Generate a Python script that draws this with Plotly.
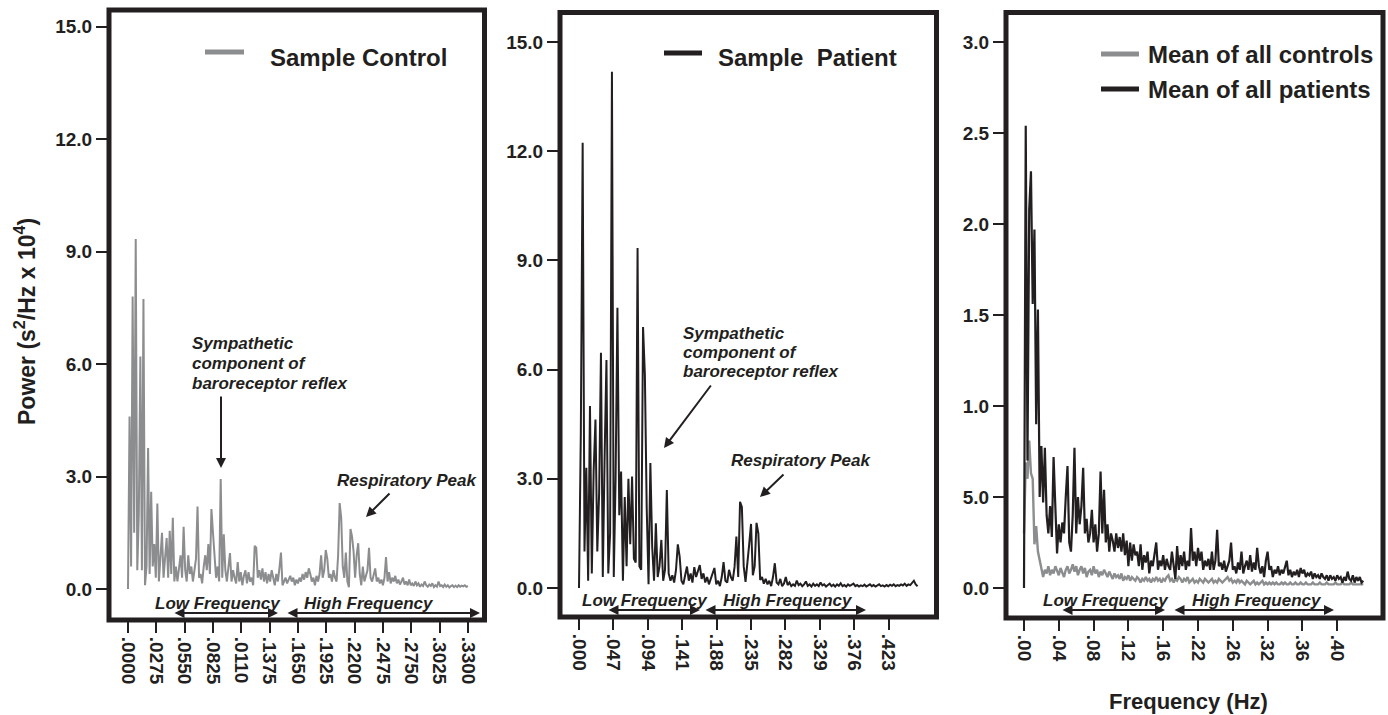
import numpy as np
import plotly.graph_objects as go

W, H = 1388, 715
FONT = "Liberation Sans, Arial, Helvetica, sans-serif"
INK = "#231f20"
GREY = "#8c8d8f"

# ---------------- data ----------------
# Panel 1: sample control power spectrum (s^2/Hz x 10^4)
ctrl_df = 0.0015
ctrl_power = [
    0.0, 4.6, 0.6, 7.8, 1.5, 9.33, 0.5, 2.0, 6.2, 0.5,
    7.73, 0.1, 0.6, 3.76, 0.4, 2.59, 0.6, 1.2, 0.3, 2.28,
    0.2, 0.8, 1.5, 0.3, 0.9, 1.36, 0.3, 1.55, 0.4, 1.9,
    0.2, 0.6, 0.2, 0.5, 0.9, 0.3, 1.66, 0.5, 0.2, 0.9,
    0.4, 0.6, 0.2, 0.5, 0.8, 2.2, 0.3, 0.4, 0.15, 0.6,
    0.9, 0.5, 1.2, 0.4, 2.13, 1.5, 1.0, 0.3, 0.6, 0.2,
    2.93, 0.3, 1.46, 0.5, 0.2, 0.6, 0.96, 0.2, 0.5, 0.3,
    0.15, 0.72, 0.2, 0.45, 0.1, 0.35, 0.5, 0.15, 0.45, 0.2,
    0.3, 0.1, 1.15, 1.1, 0.3, 0.5, 0.25, 0.55, 0.2, 0.45,
    0.15, 0.4, 0.2, 0.5, 0.3, 0.1, 0.4, 0.2, 0.55, 0.97,
    0.1, 0.2, 0.3, 0.15, 0.25, 0.35, 0.2, 0.3, 0.1, 0.25,
    0.15, 0.3, 0.2, 0.4, 0.25, 0.45, 0.3, 0.55, 0.4, 0.2,
    0.3, 0.1, 0.35, 0.2, 0.4, 0.9, 0.3, 0.5, 1.04, 0.8,
    0.3, 0.4, 0.2, 0.5, 0.3, 0.2, 0.9, 2.29, 1.9, 0.6,
    0.3, 0.97, 0.2, 0.05, 1.6, 1.4, 1.0, 0.3, 0.9, 1.22,
    0.4, 0.1, 0.6, 0.2, 0.35, 0.5, 1.1, 0.3, 0.2, 0.4,
    0.55, 0.2, 0.3, 0.15, 0.25, 0.1, 0.3, 0.85, 0.2, 0.45,
    0.15, 0.3, 0.2, 0.35, 0.15, 0.25, 0.12, 0.2, 0.3, 0.12,
    0.2, 0.1, 0.25, 0.1, 0.15, 0.08, 0.2, 0.1, 0.15, 0.06,
    0.12, 0.08, 0.2, 0.1, 0.06, 0.12, 0.08, 0.15, 0.05, 0.1,
    0.06, 0.2, 0.08, 0.1, 0.05, 0.12, 0.06, 0.1, 0.04, 0.08,
    0.1, 0.05, 0.09, 0.05, 0.1, 0.06, 0.09, 0.07, 0.1, 0.06,
    0.08,
]

# Panel 2: sample patient power spectrum
pat_df = 0.0025
pat_power = [
    0.0, 4.26, 12.23, 1.0, 3.3, 0.2, 5.0, 0.4, 3.2, 4.63,
    1.0, 2.6, 6.46, 0.3, 3.6, 6.26, 0.4, 1.5, 14.18, 0.3,
    3.0, 7.7, 2.0, 3.2, 0.2, 2.5, 0.6, 3.0, 1.2, 3.06,
    0.8, 0.7, 9.34, 0.6, 0.5, 7.17, 5.85, 2.2, 0.1, 3.43,
    1.13, 0.2, 1.78, 0.3, 0.6, 1.32, 0.2, 0.5, 2.69, 0.4,
    0.2, 0.35, 0.15, 0.5, 1.2, 0.86, 0.2, 0.1, 0.35, 0.59,
    0.2, 0.4, 0.15, 0.57, 0.3, 0.45, 0.63, 0.25, 0.4, 0.15,
    0.3, 0.1, 0.25, 0.35, 0.55, 0.1, 0.2, 0.05, 0.3, 0.71,
    0.2, 0.15, 0.5, 0.3, 0.2, 0.58, 1.41, 0.3, 2.37, 2.23,
    0.6, 0.17, 0.6, 1.2, 1.76, 0.35, 0.6, 1.79, 1.5, 0.22,
    0.3, 0.12, 0.25, 0.1, 0.2, 0.05, 0.3, 0.68, 0.15, 0.1,
    0.25, 0.05, 0.12, 0.3, 0.08, 0.15, 0.05, 0.1, 0.06, 0.2,
    0.08, 0.12, 0.05, 0.1, 0.18, 0.06, 0.1, 0.04, 0.12, 0.06,
    0.1, 0.05, 0.15, 0.07, 0.1, 0.04, 0.08, 0.12, 0.05, 0.09,
    0.04, 0.1, 0.06, 0.13, 0.05, 0.08, 0.04, 0.1, 0.06, 0.08,
    0.12, 0.05, 0.08, 0.04, 0.07, 0.05, 0.09, 0.04, 0.07, 0.1,
    0.05, 0.08, 0.04, 0.06, 0.1, 0.05, 0.07, 0.04, 0.08, 0.05,
    0.09, 0.06, 0.1, 0.05, 0.08, 0.06, 0.1, 0.07, 0.12, 0.06,
    0.1, 0.08, 0.15, 0.2, 0.1, 0.05,
]

# Panel 3: group means
mean_df = 0.002
mean_pat = [
    0.0, 2.54, 0.7, 2.08, 2.29, 1.56, 1.97, 0.9, 1.53, 0.5,
    0.78, 0.47, 0.77, 0.4, 0.3, 0.45, 0.28, 0.72, 0.45, 0.19,
    0.35, 0.25, 0.36, 0.3, 0.5, 0.67, 0.25, 0.2, 0.4, 0.77,
    0.3, 0.5, 0.35, 0.45, 0.66, 0.3, 0.38, 0.25, 0.3, 0.43,
    0.25, 0.35, 0.2, 0.3, 0.64, 0.3, 0.54, 0.25, 0.35, 0.2,
    0.3, 0.26, 0.2, 0.3, 0.22, 0.28, 0.2, 0.3, 0.18, 0.26,
    0.12, 0.25, 0.15, 0.24, 0.18, 0.2, 0.12, 0.24, 0.1, 0.18,
    0.14, 0.2, 0.08, 0.15, 0.12, 0.18, 0.25, 0.1, 0.15, 0.12,
    0.18, 0.1, 0.16, 0.12, 0.1, 0.2, 0.12, 0.05, 0.23, 0.1,
    0.18, 0.12, 0.2, 0.1, 0.15, 0.12, 0.33, 0.15, 0.2, 0.12,
    0.22, 0.15, 0.2, 0.1, 0.15, 0.12, 0.16, 0.1, 0.2, 0.1,
    0.15, 0.32, 0.12, 0.14, 0.1, 0.15, 0.09, 0.12, 0.15, 0.25,
    0.1, 0.12, 0.08, 0.14, 0.1, 0.2, 0.08, 0.12, 0.15, 0.1,
    0.18, 0.09, 0.14, 0.1, 0.22, 0.12, 0.08, 0.12, 0.06, 0.15,
    0.2, 0.1, 0.12, 0.06, 0.1, 0.08, 0.12, 0.07, 0.1, 0.08,
    0.12, 0.15, 0.07, 0.1, 0.06, 0.09, 0.07, 0.1, 0.06, 0.11,
    0.08, 0.1, 0.06, 0.08, 0.07, 0.09, 0.05, 0.08, 0.06, 0.07,
    0.05, 0.08, 0.06, 0.05, 0.07, 0.04, 0.07, 0.05, 0.06, 0.04,
    0.07, 0.05, 0.06, 0.03, 0.06, 0.04, 0.09, 0.05, 0.04, 0.07,
    0.03, 0.06, 0.04, 0.06, 0.03, 0.04,
]
mean_ctrl = [
    0.3, 0.69, 0.6, 0.81, 0.63, 0.6, 0.24, 0.34, 0.2, 0.15,
    0.1, 0.06, 0.1, 0.08, 0.12, 0.07, 0.1, 0.08, 0.12, 0.09,
    0.07, 0.11, 0.08, 0.06, 0.1, 0.12, 0.08, 0.1, 0.13, 0.09,
    0.12, 0.07, 0.1, 0.12, 0.08, 0.11, 0.06, 0.09, 0.1, 0.07,
    0.12, 0.08, 0.1, 0.06, 0.09, 0.07, 0.1, 0.08, 0.06, 0.09,
    0.07, 0.05, 0.08, 0.06, 0.07, 0.05, 0.08, 0.04, 0.06, 0.05,
    0.07, 0.04, 0.06, 0.05, 0.04, 0.06, 0.05, 0.03, 0.05, 0.04,
    0.06, 0.04, 0.05, 0.03, 0.05, 0.04, 0.06, 0.04, 0.05, 0.03,
    0.05, 0.04, 0.06, 0.07, 0.04, 0.05, 0.03, 0.05, 0.04, 0.06,
    0.05, 0.03, 0.05, 0.04, 0.06, 0.03, 0.04, 0.05, 0.03, 0.04,
    0.03, 0.05, 0.04, 0.03, 0.05, 0.04, 0.03, 0.04, 0.05, 0.03,
    0.04, 0.03, 0.05, 0.04, 0.03, 0.04, 0.05, 0.06, 0.04, 0.05,
    0.03, 0.04, 0.03, 0.05, 0.03, 0.04, 0.03, 0.02, 0.04, 0.03,
    0.02, 0.03, 0.04, 0.02, 0.03, 0.02, 0.03, 0.04, 0.02, 0.03,
    0.02, 0.03, 0.02, 0.03, 0.02, 0.03, 0.02, 0.02, 0.03, 0.02,
    0.03, 0.02, 0.02, 0.03, 0.02, 0.02, 0.03, 0.02, 0.02, 0.03,
    0.02, 0.02, 0.03, 0.02, 0.02, 0.02, 0.03, 0.02, 0.02, 0.02,
    0.03, 0.02, 0.02, 0.02, 0.03, 0.02, 0.02, 0.02, 0.02, 0.03,
    0.02, 0.02, 0.02, 0.03, 0.02, 0.02, 0.02, 0.02, 0.03, 0.02,
    0.02, 0.02, 0.02, 0.02, 0.02, 0.02,
]

# tick values / labels (labels kept exactly as printed)
x1_vals = [0.0, 0.0275, 0.055, 0.0825, 0.11, 0.1375, 0.165, 0.1925, 0.22, 0.2475, 0.275, 0.3025, 0.33]
x1_text = [".0000", ".0275", ".0550", ".0825", ".0110", ".1375", ".1650", ".1925", ".2200", ".2475", ".2750", ".3025", ".3300"]
x2_vals = [0.0, 0.047, 0.094, 0.141, 0.188, 0.235, 0.282, 0.329, 0.376, 0.423]
x2_text = [".000", ".047", ".094", ".141", ".188", ".235", ".282", ".329", ".376", ".423"]
x3_vals = [0.0, 0.04, 0.08, 0.12, 0.16, 0.20, 0.24, 0.28, 0.32, 0.36]
x3_text = [".00", ".04", ".08", ".12", ".16", ".22", ".26", ".32", ".36", ".40"]
y12_vals = [0, 3, 6, 9, 12, 15]
y12_text = ["0.0", "3.0", "6.0", "9.0", "12.0", "15.0"]
y3_vals = [0, 0.5, 1.0, 1.5, 2.0, 2.5, 3.0]
y3_text = ["0.0", "5.0", "1.0", "1.5", "2.0", "2.5", "3.0"]

ctrl_f = np.arange(len(ctrl_power)) * ctrl_df
pat_f = np.arange(len(pat_power)) * pat_df
mean_f = np.arange(len(mean_pat)) * mean_df

# ---------------- layout helpers ----------------
def px(X):
    return X / W

def py(Y):
    return 1 - Y / H

fig = go.Figure()
fig.add_trace(go.Scatter(x=ctrl_f, y=ctrl_power, mode="lines", line=dict(color=GREY, width=2),
                         xaxis="x", yaxis="y", showlegend=False, hoverinfo="skip"))
fig.add_trace(go.Scatter(x=pat_f, y=pat_power, mode="lines", line=dict(color=INK, width=2),
                         xaxis="x2", yaxis="y2", showlegend=False, hoverinfo="skip"))
fig.add_trace(go.Scatter(x=mean_f, y=mean_ctrl, mode="lines", line=dict(color=GREY, width=2.4),
                         xaxis="x3", yaxis="y3", showlegend=False, hoverinfo="skip"))
fig.add_trace(go.Scatter(x=mean_f, y=mean_pat, mode="lines", line=dict(color=INK, width=2.2),
                         xaxis="x3", yaxis="y3", showlegend=False, hoverinfo="skip"))

tickfont = dict(family=FONT, size=19, color=INK, weight="bold")
common = dict(showgrid=False, zeroline=False, showline=False, ticks="outside",
              ticklen=12, tickwidth=2, tickcolor=INK, tickfont=tickfont, fixedrange=True)

# frames (pixel boxes: left, top, right, bottom)
frames = [(109, 10, 484.5, 620), (560, 12.5, 936.5, 617), (1006, 12.5, 1383, 618)]
xr = [(-0.01845, 0.34612), (-0.02596, 0.48839), (-0.02069, 0.41264)]
yr = [(-0.8267, 15.44), (-0.797, 15.81), (-0.1648, 3.162)]
xt = [(x1_vals, x1_text), (x2_vals, x2_text), (x3_vals, x3_text)]
yt = [(y12_vals, y12_text), (y12_vals, y12_text), (y3_vals, y3_text)]

layout = {}
for k in range(3):
    L, T, R, B = frames[k]
    sfx = "" if k == 0 else str(k + 1)
    layout["xaxis" + sfx] = dict(common, domain=[px(L), px(R)], range=list(xr[k]),
                                 tickvals=xt[k][0], ticktext=xt[k][1], tickangle=90,
                                 anchor="y" + sfx)
    layout["yaxis" + sfx] = dict(common, domain=[py(B), py(T)], range=list(yr[k]),
                                 tickvals=yt[k][0], ticktext=yt[k][1],
                                 anchor="x" + sfx)

shapes = []
for k in range(3):
    L, T, R, B = frames[k]
    shapes.append(dict(type="rect", xref="paper", yref="paper",
                       x0=px(L), x1=px(R), y0=py(B), y1=py(T),
                       line=dict(color=INK, width=5), fillcolor="rgba(0,0,0,0)", layer="above"))

# legend keys
for (x0, x1, y, c) in [(205, 244, 52, GREY), (664, 702, 53, INK), (1101, 1139, 54, GREY), (1101, 1139, 89, INK)]:
    shapes.append(dict(type="line", xref="paper", yref="paper", x0=px(x0), x1=px(x1),
                       y0=py(y), y1=py(y), line=dict(color=c, width=5)))

annotations = []

def text(X, Y, s, size, italic=False, xanchor="left", angle=0):
    t = "<b><i>%s</i></b>" % s if italic else "<b>%s</b>" % s
    annotations.append(dict(xref="paper", yref="paper", x=px(X), y=py(Y), text=t,
                            showarrow=False, xanchor=xanchor, yanchor="middle", textangle=angle,
                            font=dict(family=FONT, size=size, color=INK)))

def arrow(hx, hy, tx, ty, both=False):
    annotations.append(dict(xref="paper", yref="paper", x=px(hx), y=py(hy), text="",
                            showarrow=True, ax=tx - hx, ay=ty - hy, arrowhead=2, arrowsize=1,
                            arrowwidth=2, arrowcolor=INK,
                            arrowside="end+start" if both else "end"))

# legend texts
text(268, 57, "Sample Control", 24)
text(716, 57, "Sample  Patient", 24)
text(1146, 55, "Mean of all controls", 24)
text(1146, 90, "Mean of all patients", 24)

# axis titles
text(25, 322, "Power (s<sup>2</sup>/Hz x 10<sup>4</sup>)", 23, xanchor="center", angle=-90)
text(1188, 701, "Frequency (Hz)", 22, xanchor="center")

# panel 1 notes
text(190, 343, "Sympathetic", 17, True)
text(190, 363, "component of", 17, True)
text(190, 383, "baroreceptor reflex", 17, True)
arrow(221, 468, 221, 395)
text(335, 480, "Respiratory Peak", 17, True)
arrow(366, 517, 391, 492)

# panel 2 notes
text(681, 333, "Sympathetic", 17, True)
text(681, 352, "component of", 17, True)
text(681, 371, "baroreceptor reflex", 17, True)
arrow(664, 448, 712, 384)
text(729, 460, "Respiratory Peak", 17, True)
arrow(760, 497, 785, 473)

# frequency bands
for (lx, hx, ly, ll, lr, hl, hr) in [
    (153, 302, 603, 173, 278, 286, 480),
    (580, 721, 600, 607, 700, 704, 866),
    (1041, 1190, 600, 1061, 1165, 1173, 1334),
]:
    text(lx, ly, "Low Frequency", 17, True)
    text(hx, ly, "High Frequency", 17, True)
    arrow(lr, ly + 10, ll, ly + 10, both=True)
    arrow(hr, ly + 10, hl, ly + 10, both=True)

fig.update_layout(width=W, height=H, margin=dict(l=0, r=0, t=0, b=0),
                  paper_bgcolor="white", plot_bgcolor="white",
                  shapes=shapes, annotations=annotations, showlegend=False, **layout)

fig.write_html("out.html", config={"displayModeBar": False},
               post_script="document.body.style.margin='0px';")
